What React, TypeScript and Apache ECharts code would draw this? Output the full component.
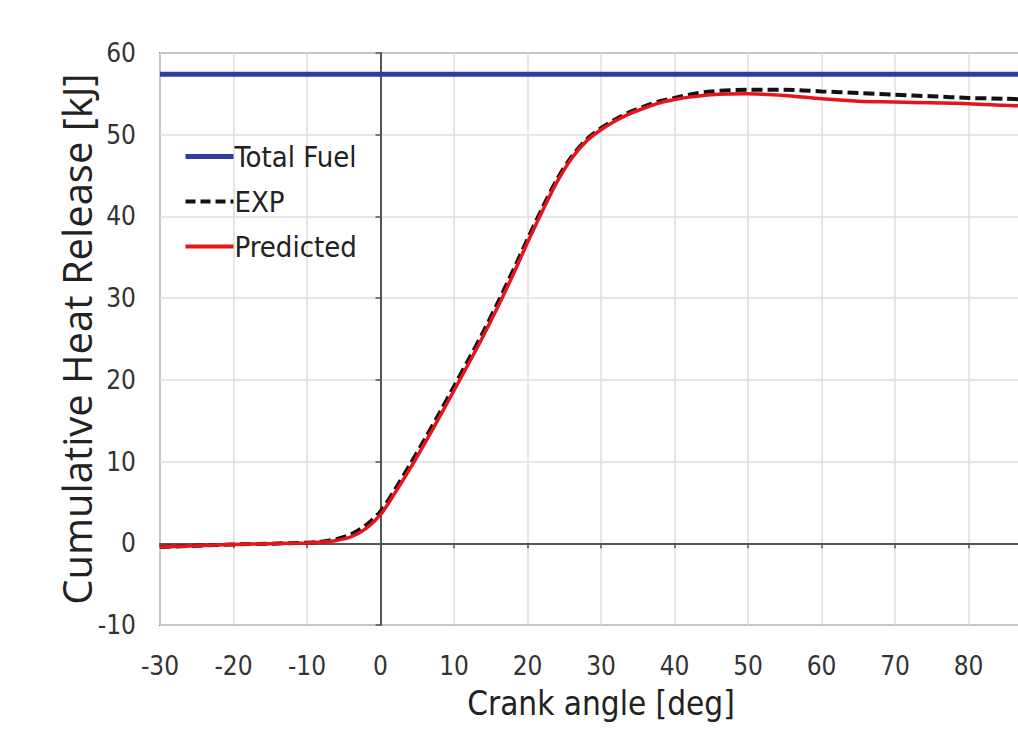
import React, { useEffect, useRef } from "react";
import * as echarts from "echarts";

const crankAngle = [-30, -25, -20, -15, -10, -8, -6, -4, -2, 0, 2, 4, 6, 8, 10, 12, 14, 16, 18, 20, 22, 24, 26, 28, 30, 32, 34, 36, 38, 40, 42, 45, 50, 55, 60, 65, 70, 75, 80, 85, 88];
const predicted = [-0.45, -0.3, -0.15, -0.05, 0.05, 0.15, 0.35, 0.8, 1.8, 3.5, 6.2, 9.1, 12.2, 15.4, 18.7, 22.0, 25.4, 29.0, 32.8, 36.8, 40.6, 44.2, 47.1, 49.2, 50.6, 51.7, 52.6, 53.3, 53.9, 54.3, 54.6, 54.9, 55.0, 54.8, 54.4, 54.1, 54.0, 53.9, 53.8, 53.6, 53.5];
const experiment = [-0.45, -0.3, -0.15, -0.05, 0.08, 0.2, 0.5, 1.1, 2.2, 3.9, 6.6, 9.6, 12.7, 15.9, 19.2, 22.5, 25.9, 29.5, 33.3, 37.2, 41.0, 44.5, 47.3, 49.4, 50.8, 51.9, 52.8, 53.5, 54.1, 54.5, 54.9, 55.3, 55.5, 55.5, 55.3, 55.1, 54.9, 54.7, 54.5, 54.4, 54.3];
const totalFuelX = [-30, 90];
const totalFuelY = [57.4, 57.4];
const seriesNames = ["Total Fuel", "EXP", "Predicted"];

const narrow = "'Liberation Sans Narrow', 'DejaVu Sans Condensed', Lato, sans-serif";
const BLUE = "#2d3f9e";
const RED = "#e8141c";
const BLACK = "#111111";

export default function App() {
  const ref = useRef<HTMLDivElement>(null);
  useEffect(() => {
    document.body.style.margin = "0";
    const chart = echarts.init(ref.current!, null, { renderer: "svg" });
    const pairs = (xs: number[], ys: number[]) => xs.map((x, i) => [x, ys[i]]);
    chart.setOption({
      animation: false,
      backgroundColor: "#ffffff",
      grid: {
        left: 160,
        top: 53,
        right: 0,
        bottom: 105,
        show: true,
        borderColor: "#808080",
        borderWidth: 2,
        backgroundColor: "transparent",
      },
      legend: {
        orient: "vertical",
        left: 178,
        top: 136,
        itemWidth: 48,
        itemHeight: 14,
        itemGap: 14,
        itemStyle: { opacity: 0 },
        data: [
          { name: seriesNames[0], lineStyle: { color: BLUE, width: 5 } },
          { name: seriesNames[1], lineStyle: { color: BLACK, width: 4, type: [10, 5] } },
          { name: seriesNames[2], lineStyle: { color: RED, width: 4 } },
        ],
        textStyle: { fontFamily: narrow, fontSize: 29, color: "#222", lineHeight: 31, padding: [0, 0, 0, -4] },
      },
      xAxis: [
        {
          type: "value",
          min: -30,
          max: 90,
          interval: 10,
          position: "bottom",
          name: "Crank angle [deg]",
          nameLocation: "middle",
          nameGap: 62,
          nameMoveOverlap: false,
          nameTextStyle: { fontFamily: narrow, fontSize: 33, color: "#222" },
          axisLine: { show: false, onZero: false },
          axisTick: { show: false },
          axisLabel: { fontFamily: narrow, fontSize: 26, color: "#333", margin: 28, showMaxLabel: false },
          splitLine: { show: true, lineStyle: { color: "#dedede", width: 1.5 } },
        },
        {
          type: "value",
          min: -30,
          max: 90,
          interval: 10,
          position: "bottom",
          axisLine: { show: true, onZero: true, lineStyle: { color: "#555", width: 2 } },
          axisTick: { show: true, length: 5, lineStyle: { color: "#555", width: 1.5 } },
          axisLabel: { show: false },
          splitLine: { show: false },
        },
      ],
      yAxis: [
        {
          type: "value",
          min: -10,
          max: 60,
          interval: 10,
          position: "left",
          name: "Cumulative Heat Release [kJ]",
          nameLocation: "middle",
          nameGap: 64,
          nameMoveOverlap: false,
          nameTextStyle: { fontFamily: "'Open Sans', sans-serif", fontSize: 40, color: "#222" },
          axisLine: { show: false, onZero: false },
          axisTick: { show: false },
          axisLabel: { fontFamily: narrow, fontSize: 26, color: "#333", margin: 24 },
          splitLine: { show: true, lineStyle: { color: "#dedede", width: 1.5 } },
        },
        {
          type: "value",
          min: -10,
          max: 60,
          interval: 10,
          position: "left",
          axisLine: { show: true, onZero: true, lineStyle: { color: "#555", width: 2 } },
          axisTick: { show: true, length: 5, lineStyle: { color: "#555", width: 1.5 } },
          axisLabel: { show: false },
          splitLine: { show: false },
        },
      ],
      series: [
        {
          name: "Total Fuel",
          type: "line",
          xAxisIndex: 0,
          yAxisIndex: 0,
          data: pairs(totalFuelX, totalFuelY),
          symbol: "none",
          lineStyle: { color: BLUE, width: 5 },
          itemStyle: { color: BLUE },
          z: 3,
        },
        {
          name: "EXP",
          type: "line",
          xAxisIndex: 0,
          yAxisIndex: 0,
          data: pairs(crankAngle, experiment),
          symbol: "none",
          smooth: 0.3,
          lineStyle: { color: BLACK, width: 4, type: [11, 5] },
          itemStyle: { color: BLACK },
          z: 4,
        },
        {
          name: "Predicted",
          type: "line",
          xAxisIndex: 0,
          yAxisIndex: 0,
          data: pairs(crankAngle, predicted),
          symbol: "none",
          smooth: 0.3,
          lineStyle: { color: RED, width: 3.5 },
          itemStyle: { color: RED },
          z: 5,
        },
      ],
    });
    return () => chart.dispose();
  }, []);
  return (
    <div style={{ width: 1018, height: 730, overflow: "hidden", position: "relative" }}>
      <div ref={ref} style={{ width: 1042, height: 730 }} />
    </div>
  );
}
